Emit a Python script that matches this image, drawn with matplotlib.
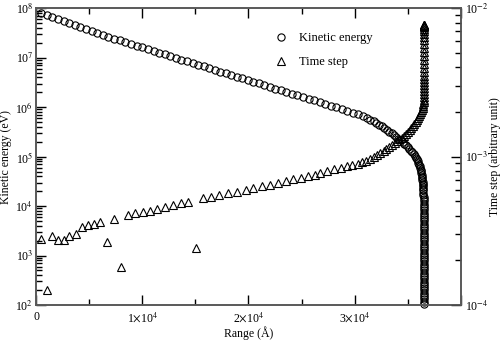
import numpy as np
import matplotlib
matplotlib.use("Agg")
import matplotlib.pyplot as plt
from matplotlib.ticker import LogLocator, FixedLocator, NullFormatter, FixedFormatter
from matplotlib.lines import Line2D

plt.rcParams['font.family'] = ['Liberation Serif', 'DejaVu Serif']
plt.rcParams['mathtext.fontset'] = 'stix'

# ---- Kinetic energy (circles): range in Angstrom, log10(E / eV)
ke_range = [470, 1000, 1530, 2060, 2590, 3120, 3650, 4180, 4700, 5230, 5760, 6290,
            6820, 7350, 7880, 8410, 8940, 9470, 10000, 10530, 11060, 11590, 12120, 12650,
            13170, 13690, 14210, 14730, 15250, 15770, 16290, 16810, 17330, 17850, 18370,
            18890, 19410, 19930, 20450, 20970, 21490, 22010, 22530, 23050, 23570, 24090,
            24610, 25130, 25650, 26170, 26690,
            27210, 27730, 28250, 28770, 29290, 29810, 30330, 30770, 31150, 31480, 31775,
            32045, 32300, 32545, 32785, 33020, 33250, 33475, 33695, 33907, 34111, 34307,
            34495, 34673, 34841, 34999, 35147, 35285, 35413, 35531, 35639, 35737, 35827,
            35909, 35983, 36049, 36107, 36157, 36201, 36239, 36271, 36301, 36329, 36354,
            36376, 36395, 36411, 36425, 36437, 36447, 36455,
            36462, 36470, 36477, 36483, 36488, 36492, 36495, 36497, 36499, 36500,
            36500, 36500, 36500, 36500, 36500, 36500, 36500, 36500, 36500, 36500,
            36500, 36500, 36500, 36500, 36500, 36500, 36500, 36500, 36500, 36500,
            36500, 36500, 36500, 36500, 36500, 36500, 36500, 36500, 36500, 36500,
            36500, 36500, 36500, 36500, 36500, 36500, 36500, 36500, 36500, 36500,
            36500]
ke_log10 = [7.905, 7.863, 7.821, 7.780, 7.739, 7.698, 7.658, 7.618, 7.579, 7.540, 7.501,
            7.463, 7.425, 7.388, 7.351, 7.315, 7.279, 7.243, 7.208, 7.173, 7.138, 7.104,
            7.070, 7.036,
            6.998, 6.964, 6.929, 6.895, 6.860, 6.826, 6.791, 6.757, 6.722, 6.688, 6.653,
            6.619, 6.584, 6.550, 6.515, 6.481, 6.446, 6.412, 6.377, 6.343, 6.308, 6.274,
            6.239, 6.205, 6.170, 6.136, 6.101,
            6.066, 6.031, 5.996, 5.961, 5.926, 5.891, 5.856, 5.821, 5.786, 5.751, 5.716,
            5.681, 5.646, 5.611, 5.576, 5.541, 5.506, 5.471, 5.436, 5.401, 5.366, 5.331,
            5.296, 5.261, 5.226, 5.191, 5.156, 5.121, 5.086, 5.051, 5.016, 4.981, 4.946,
            4.911, 4.876, 4.841, 4.806, 4.771, 4.736, 4.701, 4.666, 4.631, 4.596, 4.561,
            4.526, 4.491, 4.456, 4.421, 4.386, 4.351, 4.316,
            4.275, 4.230, 4.185, 4.140, 4.095, 4.050, 4.005, 3.960, 3.915, 3.870,
            3.825, 3.780, 3.735, 3.690, 3.645, 3.600, 3.555, 3.510, 3.465, 3.420,
            3.375, 3.330, 3.285, 3.240, 3.195, 3.150, 3.105, 3.060, 3.015, 2.970,
            2.925, 2.880, 2.835, 2.790, 2.745, 2.700, 2.655, 2.610, 2.565, 2.520,
            2.475, 2.430, 2.385, 2.340, 2.295, 2.250, 2.205, 2.160, 2.115, 2.070,
            2.030]

# ---- Time step (triangles): range in Angstrom, time step (arbitrary unit)
ts_range = [471, 1007, 1534, 2099, 2607, 3134, 3737, 4301, 4894, 5487, 6052, 6654,
            7341, 7953, 8631, 9346, 10052, 10748, 11435, 12160, 12875, 13619, 14334,
            15059, 15671, 16424, 17243, 18090, 18937, 19718, 20452, 21243, 21995, 22748,
            23501, 24217, 24913, 25572, 26231,
            26729, 27435, 28094, 28706, 29271, 29788, 30259, 30682, 31059, 31435, 31765,
            32094, 32405, 32706, 32988, 33252, 33506, 33750, 33976, 34193, 34409, 34616,
            34805, 34983, 35153, 35313, 35464, 35605, 35737, 35859, 35972, 36075, 36170,
            36254, 36329, 36395, 36442, 36470, 36490, 36500,
            36500, 36500, 36500, 36500, 36500, 36500, 36500, 36500, 36500, 36500,
            36500, 36500, 36500, 36500, 36500, 36500, 36500, 36500, 36500, 36500,
            36500, 36500, 36500, 36500, 36500, 36500, 36500, 36500]
ts_value = [2.78e-4, 1.27e-4, 2.94e-4, 2.75e-4, 2.74e-4, 2.94e-4, 3.02e-4, 3.33e-4,
            3.46e-4, 3.51e-4, 3.62e-4, 2.67e-4, 3.81e-4, 1.80e-4, 4.03e-4, 4.14e-4,
            4.24e-4, 4.33e-4, 4.44e-4, 4.58e-4, 4.70e-4, 4.85e-4, 4.97e-4, 2.44e-4,
            5.24e-4, 5.38e-4, 5.51e-4, 5.66e-4, 5.82e-4, 5.98e-4, 6.14e-4, 6.33e-4,
            6.49e-4, 6.66e-4, 6.84e-4, 7.05e-4, 7.19e-4, 7.39e-4, 7.57e-4,
            7.74e-4, 7.98e-4, 8.21e-4, 8.41e-4, 8.61e-4, 8.81e-4, 8.99e-4, 9.19e-4,
            9.42e-4, 9.70e-4, 9.98e-4, 1.028e-3, 1.061e-3, 1.094e-3, 1.129e-3, 1.165e-3,
            1.200e-3, 1.239e-3, 1.277e-3, 1.31e-3, 1.339e-3, 1.380e-3, 1.425e-3,
            1.469e-3, 1.515e-3, 1.563e-3, 1.611e-3, 1.662e-3, 1.714e-3, 1.768e-3,
            1.823e-3, 1.881e-3, 1.940e-3, 2.003e-3, 2.065e-3, 2.131e-3, 2.198e-3,
            2.268e-3, 2.339e-3, 2.411e-3,
            2.528e-3, 2.649e-3, 2.775e-3, 2.907e-3, 3.046e-3, 3.191e-3, 3.343e-3,
            3.503e-3, 3.724e-3, 3.960e-3, 4.21e-3, 4.48e-3, 4.77e-3, 5.08e-3, 5.41e-3,
            5.75e-3, 6.12e-3, 6.41e-3, 6.72e-3, 7.04e-3, 7.26e-3, 7.48e-3, 7.60e-3,
            7.65e-3, 7.68e-3, 7.70e-3, 7.72e-3, 7.75e-3]

x_ticks = [0, 10000, 20000, 30000, 40000]
x_ticklabels = ['0', r'1$\times$10$^{4}$', r'2$\times$10$^{4}$', r'3$\times$10$^{4}$', '']
left_ticks = [1e2, 1e3, 1e4, 1e5, 1e6, 1e7, 1e8]
left_ticklabels = [r'10$^{2}$', r'10$^{3}$', r'10$^{4}$', r'10$^{5}$', r'10$^{6}$', r'10$^{7}$', r'10$^{8}$']
right_ticks = [1e-4, 1e-3, 1e-2]
right_ticklabels = [r'10$^{-4}$', r'10$^{-3}$', r'10$^{-2}$']

ke = 10 ** np.array(ke_log10)

fig = plt.figure(figsize=(5.0, 3.41), dpi=100)
ax = fig.add_axes([0.072, 0.1056, 0.85, 0.8700])
ax2 = ax.twinx()

spine_c = '0.35'
for a in (ax, ax2):
    for s in a.spines.values():
        s.set_color(spine_c)
        s.set_linewidth(1.2)

ms = 5.2
ax.plot(ke_range, ke, linestyle='none', marker='o', markersize=ms,
        markerfacecolor='none', markeredgecolor='black', markeredgewidth=0.8, clip_on=False)
ax2.plot(ts_range, ts_value, linestyle='none', marker='^', markersize=ms,
         markerfacecolor='none', markeredgecolor='black', markeredgewidth=0.8, clip_on=False)

ax.set_xlim(0, 40000)
ax.set_yscale('log')
ax.set_ylim(1e2, 1e8)
ax2.set_yscale('log')
ax2.set_ylim(1e-4, 1e-2)

ax.xaxis.set_major_locator(FixedLocator(x_ticks))
ax.xaxis.set_major_formatter(FixedFormatter(x_ticklabels))
ax.xaxis.set_minor_locator(FixedLocator([5000, 15000, 25000, 35000]))
ax.yaxis.set_major_locator(FixedLocator(left_ticks))
ax.yaxis.set_major_formatter(FixedFormatter(left_ticklabels))
ax.yaxis.set_minor_locator(LogLocator(base=10, subs=np.arange(2, 10)))
ax.yaxis.set_minor_formatter(NullFormatter())
ax2.yaxis.set_major_locator(FixedLocator(right_ticks))
ax2.yaxis.set_major_formatter(FixedFormatter(right_ticklabels))
ax2.yaxis.set_minor_locator(LogLocator(base=10, subs=np.arange(2, 10)))
ax2.yaxis.set_minor_formatter(NullFormatter())

tls = 8.5
ax.tick_params(axis='x', which='both', direction='in', top=True, bottom=True,
               colors='black', labelsize=tls, pad=4)
ax.tick_params(axis='x', which='major', length=7, width=1)
ax.tick_params(axis='x', which='minor', length=4, width=1)
ax.tick_params(axis='y', which='both', direction='in', left=True, right=False, labelsize=tls, pad=2)
ax.tick_params(axis='y', which='major', length=7, width=1)
ax.tick_params(axis='y', which='minor', length=4, width=1)
ax2.tick_params(axis='y', which='both', direction='in', right=True, left=False, labelsize=tls, pad=3)
ax2.tick_params(axis='y', which='major', length=7, width=1)
ax2.tick_params(axis='y', which='minor', length=4, width=1)
for a in (ax, ax2):
    for t in a.xaxis.get_ticklines(minor=True) + a.xaxis.get_ticklines() + \
             a.yaxis.get_ticklines(minor=True) + a.yaxis.get_ticklines():
        t.set_color(spine_c)

ax.set_xlabel('Range (Å)', fontsize=8.5, labelpad=1)
ax.set_ylabel('Kinetic energy (eV)', fontsize=8.5)
ax.yaxis.set_label_coords(-0.056, 0.5)
ax2.set_ylabel('Time step (arbitrary unit)', fontsize=8.5, rotation=90)
ax2.yaxis.set_label_coords(1.066, 0.5)

handles = [Line2D([], [], linestyle='none', marker='o', markersize=ms, markerfacecolor='none',
                  markeredgecolor='black', markeredgewidth=0.8),
           Line2D([], [], linestyle='none', marker='^', markersize=ms, markerfacecolor='none',
                  markeredgecolor='black', markeredgewidth=0.8)]
ax2.legend(handles, ['Kinetic energy', 'Time step'], loc='upper left',
           bbox_to_anchor=(0.527, 0.957), frameon=False, fontsize=9,
           handlelength=1.5, handletextpad=0.7, labelspacing=0.95)

fig.savefig('out.png', dpi=100)
